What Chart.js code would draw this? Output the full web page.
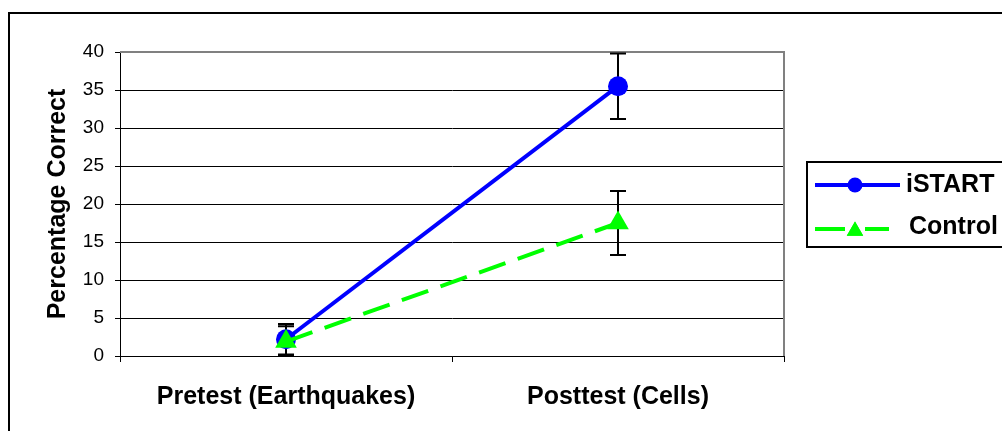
<!DOCTYPE html>
<html><head><meta charset="utf-8">
<style>html,body{margin:0;padding:0;background:#fff;overflow:hidden}canvas{display:block}</style>
<script src="https://cdn.jsdelivr.net/npm/chart.js@4.4.1/dist/chart.umd.min.js"></script>
</head><body>
<canvas id="c" width="1002" height="431"></canvas>
<script>
const categories = ['Pretest (Earthquakes)', 'Posttest (Cells)'];
const seriesNames = ['iSTART', 'Control'];
const istartValues = [2.2, 35.5];
const istartErrors = [2.0, 4.3];
const controlValues = [1.9, 17.5];
const controlErrors = [2.0, 4.2];
const yMin = 0, yMax = 40, yStep = 5;
const yTitle = 'Percentage Correct';

const FONT = '"Liberation Sans", Arial, sans-serif';

const frame = {
  id: 'frame',
  beforeDraw(chart) {
    const ctx = chart.ctx;
    ctx.save();
    ctx.strokeStyle = '#000'; ctx.lineWidth = 2;
    ctx.beginPath(); ctx.moveTo(9, 431); ctx.lineTo(9, 13); ctx.lineTo(1002, 13); ctx.stroke();
    ctx.restore();
  },
  beforeDatasetsDraw(chart) {
    const ctx = chart.ctx, a = chart.chartArea;
    ctx.save();
    ctx.strokeStyle = '#808080'; ctx.lineWidth = 2;
    ctx.beginPath(); ctx.moveTo(a.left, a.top); ctx.lineTo(a.right, a.top); ctx.lineTo(a.right, a.bottom); ctx.stroke();
    ctx.restore();
  }
};

const errorBars = {
  id: 'errorBars',
  beforeDatasetsDraw(chart) {
    const ctx = chart.ctx, xs = chart.scales.x, ys = chart.scales.y;
    const sets = [[istartValues, istartErrors], [controlValues, controlErrors]];
    ctx.save();
    ctx.strokeStyle = '#000'; ctx.lineWidth = 2;
    sets.forEach(([vals, errs]) => vals.forEach((v, i) => {
      const px = xs.getPixelForValue(i);
      const top = ys.getPixelForValue(v + errs[i]);
      const bot = ys.getPixelForValue(Math.max(yMin, v - errs[i]));
      ctx.beginPath();
      ctx.moveTo(px, top); ctx.lineTo(px, bot);
      ctx.moveTo(px - 8, top); ctx.lineTo(px + 8, top);
      ctx.moveTo(px - 8, bot); ctx.lineTo(px + 8, bot);
      ctx.stroke();
    }));
    ctx.restore();
  }
};

const boxLegend = {
  id: 'boxLegend',
  afterDraw(chart) {
    const ctx = chart.ctx;
    const ds = chart.data.datasets;
    ctx.save();
    ctx.strokeStyle = '#000'; ctx.lineWidth = 2;
    ctx.strokeRect(807, 162, 230, 85);
    // iSTART
    let y = 185;
    ctx.strokeStyle = ds[0].borderColor; ctx.lineWidth = 4; ctx.setLineDash([]);
    ctx.beginPath(); ctx.moveTo(815, y); ctx.lineTo(900, y); ctx.stroke();
    ctx.fillStyle = ds[0].pointBackgroundColor;
    ctx.beginPath(); ctx.arc(855, y, 7.5, 0, Math.PI * 2); ctx.fill();
    // Control
    y = 229;
    ctx.strokeStyle = ds[1].borderColor; ctx.lineWidth = 4;
    ctx.beginPath(); ctx.moveTo(815, y); ctx.lineTo(845, y); ctx.moveTo(865, y); ctx.lineTo(889, y); ctx.stroke();
    ctx.fillStyle = ds[1].pointBackgroundColor;
    Chart.helpers.drawPoint(ctx, {pointStyle: 'triangle', radius: 9.5, rotation: 0, borderWidth: 0}, 855, y + 2);
    ctx.fill();
    ctx.fillStyle = '#000';
    ctx.font = 'bold 25px ' + FONT;
    ctx.textBaseline = 'middle'; ctx.textAlign = 'left';
    ctx.fillText(ds[0].label, 906, 185);
    ctx.fillText(ds[1].label, 909, 227);
    ctx.restore();
  }
};

new Chart(document.getElementById('c'), {
  type: 'line',
  data: {
    labels: categories,
    datasets: [
      {
        label: seriesNames[0], data: istartValues, order: 1,
        borderColor: '#0000FF', backgroundColor: '#0000FF',
        pointBackgroundColor: '#0000FF', pointBorderColor: '#0000FF',
        borderWidth: 4, pointStyle: 'circle', pointRadius: 10, pointBorderWidth: 0,
        tension: 0
      },
      {
        label: seriesNames[1], data: controlValues, order: 0,
        borderColor: '#00FF00', backgroundColor: '#00FF00',
        pointBackgroundColor: '#00FF00', pointBorderColor: '#00FF00',
        borderWidth: 4, borderDash: [28, 13], pointStyle: 'triangle', pointRadius: 12.5, pointBorderWidth: 0,
        tension: 0
      }
    ]
  },
  options: {
    responsive: false, animation: false, devicePixelRatio: 1,
    layout: { padding: { left: 8, top: 52, right: 218, bottom: 0 } },
    plugins: { legend: { display: false }, tooltip: { enabled: false } },
    scales: {
      x: {
        offset: true,
        afterFit(s) { s.height = 75; },
        grid: { offset: true, drawOnChartArea: false, drawTicks: true, tickLength: 6, tickColor: '#000', tickWidth: 1 },
        border: { color: '#000', width: 1 },
        ticks: { color: '#000', padding: 20, font: { family: FONT, size: 25, weight: 'bold' }, maxRotation: 0 }
      },
      y: {
        min: yMin, max: yMax,
        afterFit(s) { s.width = 112; },
        grid: {
          color: (c) => c.tick && c.tick.value === yMax ? 'rgba(0,0,0,0)' : '#000',
          lineWidth: 1, tickLength: 5, tickColor: '#000'
        },
        border: { color: '#000', width: 1 },
        ticks: { stepSize: yStep, color: '#000', padding: 11, font: { family: FONT, size: 19 } },
        title: { display: true, text: yTitle, color: '#000', padding: { top: 35, bottom: 0 }, font: { family: FONT, size: 25, weight: 'bold' } }
      }
    }
  },
  plugins: [frame, errorBars, boxLegend]
});
</script>
</body></html>
